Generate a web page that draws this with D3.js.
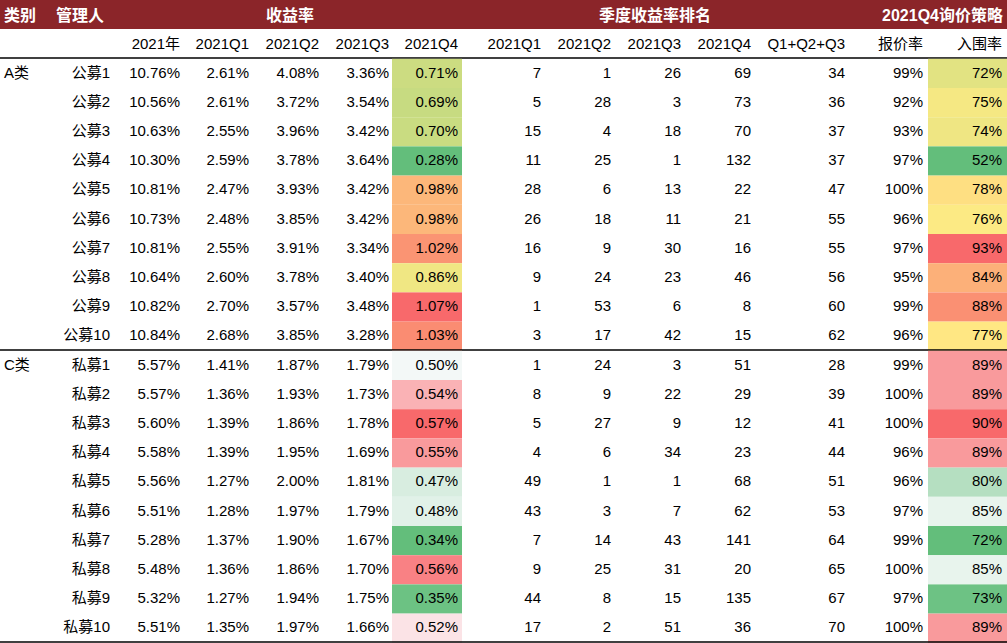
<!DOCTYPE html>
<html><head><meta charset="utf-8">
<script src="https://cdn.jsdelivr.net/npm/d3@7"></script>
<style>body{margin:0;background:#fff}</style>
</head><body>
<script>
// data
var groups = ["A类", "C类"];
var managers = [
  ["公募1","公募2","公募3","公募4","公募5","公募6","公募7","公募8","公募9","公募10"],
  ["私募1","私募2","私募3","私募4","私募5","私募6","私募7","私募8","私募9","私募10"]
];
var ret2021 = [[10.76,10.56,10.63,10.30,10.81,10.73,10.81,10.64,10.82,10.84],[5.57,5.57,5.60,5.58,5.56,5.51,5.28,5.48,5.32,5.51]];
var retQ1 = [[2.61,2.61,2.55,2.59,2.47,2.48,2.55,2.60,2.70,2.68],[1.41,1.36,1.39,1.39,1.27,1.28,1.37,1.36,1.27,1.35]];
var retQ2 = [[4.08,3.72,3.96,3.78,3.93,3.85,3.91,3.78,3.57,3.85],[1.87,1.93,1.86,1.95,2.00,1.97,1.90,1.86,1.94,1.97]];
var retQ3 = [[3.36,3.54,3.42,3.64,3.42,3.42,3.34,3.40,3.48,3.28],[1.79,1.73,1.78,1.69,1.81,1.79,1.67,1.70,1.75,1.66]];
var retQ4 = [[0.71,0.69,0.70,0.28,0.98,0.98,1.02,0.86,1.07,1.03],[0.50,0.54,0.57,0.55,0.47,0.48,0.34,0.56,0.35,0.52]];
var rankQ1 = [[7,5,15,11,28,26,16,9,1,3],[1,8,5,4,49,43,7,9,44,17]];
var rankQ2 = [[1,28,4,25,6,18,9,24,53,17],[24,9,27,6,1,3,14,25,8,2]];
var rankQ3 = [[26,3,18,1,13,11,30,23,6,42],[3,22,9,34,1,7,43,31,15,51]];
var rankQ4 = [[69,73,70,132,22,21,16,46,8,15],[51,29,12,23,68,62,141,20,135,36]];
var rankSum = [[34,36,37,37,47,55,55,56,60,62],[28,39,41,44,51,53,64,65,67,70]];
var quoteRate = [[99,92,93,97,100,96,97,95,99,96],[99,100,100,96,96,97,99,100,97,100]];
var inRate = [[72,75,74,52,78,76,93,84,88,77],[89,89,90,89,80,85,72,85,73,89]];
var subHeads = ["2021年","2021Q1","2021Q2","2021Q3","2021Q4","2021Q1","2021Q2","2021Q3","2021Q4","Q1+Q2+Q3","报价率","入围率"];

var W = 1007, H = 643;
var svg = d3.select("body").append("svg").attr("width", W).attr("height", H)
  .style("font-family", "'Liberation Sans','Noto Sans CJK SC',Arial,sans-serif").style("font-size", "15px");

// right edges of the columns
var colRight = [180,249,319,389,458,541,611,681,751,845,923,1002];
var rowY = d3.scaleLinear().domain([0, 20]).range([58, 642]);

// header band
svg.append("rect").attr("x",0).attr("y",0).attr("width",W).attr("height",29).attr("fill","#8b2529");
var hd = [["类别",4,"start"],["管理人",56,"start"],["收益率",290,"middle"],["季度收益率排名",655,"middle"],["2021Q4询价策略",1003,"end"]];
hd.forEach(function(h){
  svg.append("text").attr("x",h[1]).attr("y",21).attr("text-anchor",h[2])
    .attr("fill","#fff").attr("font-weight","bold").style("font-size","16px").text(h[0]);
});
subHeads.forEach(function(s,i){
  svg.append("text").attr("x",colRight[i]).attr("y",49).attr("text-anchor","end").text(s);
});

function scale3(vals, cols){
  var s = vals.slice().sort(d3.ascending);
  return d3.scaleLinear().domain([s[0], d3.median(s), s[s.length-1]]).range(cols);
}

groups.forEach(function(g, gi){
  var base = gi*10;
  var q4Col = gi==0 ? scale3(retQ4[gi], ["#63be7b","#ffeb84","#f8696b"]) : scale3(retQ4[gi], ["#63be7b","#fcfcff","#f8696b"]);
  var inCol = gi==0 ? scale3(inRate[gi], ["#63be7b","#ffeb84","#f8696b"]) : scale3(inRate[gi], ["#63be7b","#fcfcff","#f8696b"]);
  svg.append("line").attr("x1",0).attr("x2",W).attr("y1",rowY(base)).attr("y2",rowY(base)).attr("stroke","#000").attr("stroke-width",1.5);
  for (var r=0; r<10; r++){
    var y0 = rowY(base+r), y1 = rowY(base+r+1), ty = (y0+y1)/2+5;
    svg.append("rect").attr("x",392).attr("y",y0+0.8).attr("width",70).attr("height",y1-y0).attr("fill",q4Col(retQ4[gi][r]));
    svg.append("rect").attr("x",928).attr("y",y0+0.8).attr("width",79).attr("height",y1-y0).attr("fill",inCol(inRate[gi][r]));
    if (r==0) svg.append("text").attr("x",4).attr("y",ty).text(g);
    svg.append("text").attr("x",110).attr("y",ty).attr("text-anchor","end").text(managers[gi][r]);
    var cells = [ret2021[gi][r].toFixed(2)+"%", retQ1[gi][r].toFixed(2)+"%", retQ2[gi][r].toFixed(2)+"%", retQ3[gi][r].toFixed(2)+"%", retQ4[gi][r].toFixed(2)+"%",
      rankQ1[gi][r], rankQ2[gi][r], rankQ3[gi][r], rankQ4[gi][r], rankSum[gi][r], quoteRate[gi][r]+"%", inRate[gi][r]+"%"];
    cells.forEach(function(c,i){
      svg.append("text").attr("x",colRight[i]).attr("y",ty).attr("text-anchor","end").text(c);
    });
  }
});
svg.append("line").attr("x1",0).attr("x2",W).attr("y1",rowY(20)).attr("y2",rowY(20)).attr("stroke","#000").attr("stroke-width",1.5);
</script>
</body></html>
